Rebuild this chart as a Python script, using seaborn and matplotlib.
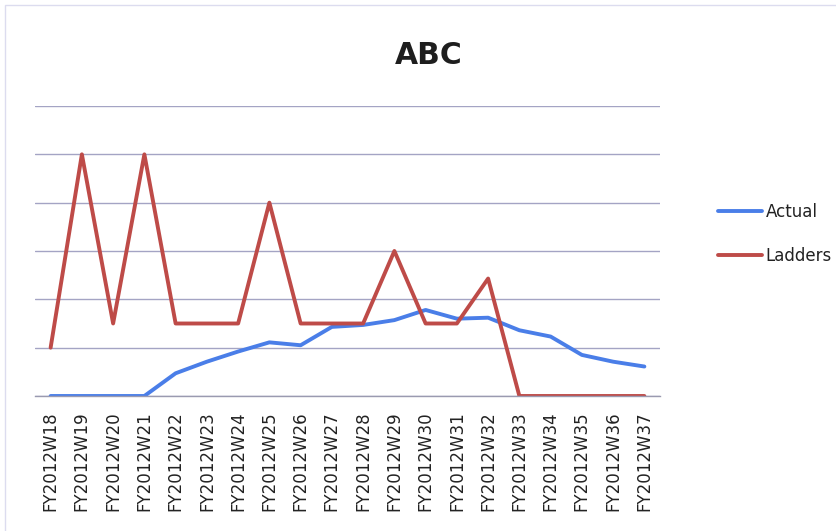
import matplotlib
matplotlib.use("Agg")
import matplotlib.pyplot as plt
from matplotlib.patches import Rectangle
from matplotlib.ticker import FixedLocator
import pandas as pd
import seaborn as sns

# Weekly values per series
weeks = [f"FY2012W{n}" for n in range(18, 38)]
actual = [0, 0, 0, 0, 0.47, 0.71, 0.92, 1.11, 1.05, 1.43,
          1.47, 1.57, 1.78, 1.60, 1.62, 1.36, 1.23, 0.85, 0.71, 0.61]
ladders = [1, 5, 1.5, 5, 1.5, 1.5, 1.5, 4, 1.5, 1.5,
           1.5, 3, 1.5, 1.5, 2.43, 0, 0, 0, 0, 0]
series_names = ["Actual", "Ladders"]
series_colors = {"Actual": "#4a7ee8", "Ladders": "#be4b48"}

df = pd.concat([
    pd.DataFrame({"week": weeks, "value": actual, "series": "Actual"}),
    pd.DataFrame({"week": weeks, "value": ladders, "series": "Ladders"}),
], ignore_index=True)

sns.set_style("white")
plt.rcParams["font.family"] = ["DejaVu Sans"]

fig = plt.figure(figsize=(8.36, 5.31), dpi=100)
ax = fig.add_axes([35 / 836, 1 - 396 / 531, 625 / 836, 290 / 531])

sns.lineplot(data=df, x="week", y="value", hue="series",
             hue_order=series_names, palette=series_colors,
             linewidth=2.8, sort=False, ax=ax, legend=False)

ax.set_xlim(-0.5, len(weeks) - 0.5)
ax.set_ylim(0, 6)
ax.set_yticks(range(0, 7))
ax.set_yticklabels([])
ax.tick_params(axis="y", length=0)
ax.grid(axis="y", color="#a4a4c4", linewidth=1.0)
ax.grid(axis="x", visible=False)
ax.set_axisbelow(True)
ax.set_xlabel("")
ax.set_ylabel("")

for side in ["top", "right", "left"]:
    ax.spines[side].set_visible(False)
ax.spines["bottom"].set_color("#9a9ab0")
ax.spines["bottom"].set_linewidth(1.0)

ax.set_xticks(range(len(weeks)))
ax.set_xticklabels(weeks, rotation=90, fontsize=12, color="#222222",
                   va="top", ha="center")
ax.tick_params(axis="x", which="major", length=0, pad=11)
ax.xaxis.set_minor_locator(FixedLocator([i - 0.5 for i in range(len(weeks) + 1)]))
ax.tick_params(axis="x", which="minor", length=4, color="#9a9ab0", width=1)

# Legend on the right side of the chart
handles = [plt.Line2D([], [], color=series_colors[s], linewidth=2.8) for s in series_names]
fig.legend(handles, series_names, loc="center left",
           bbox_to_anchor=(718 / 836, 1 - 234 / 531),
           bbox_transform=fig.transFigure, frameon=False,
           fontsize=12, handlelength=2.65, handletextpad=0.2,
           labelspacing=1.6, borderpad=0, borderaxespad=0,
           labelcolor="#222222")

fig.text(429 / 836, 1 - 56 / 531, "ABC", fontsize=21.5, fontweight="bold",
         color="#1e1e1e", ha="center", va="center")

# Chart frame
fig.patches.append(Rectangle((5 / 836, -0.5), 2, 1.5 - 5 / 531,
                             transform=fig.transFigure, fill=False,
                             edgecolor="#dcdcef", linewidth=1.0))

fig.savefig("out.png", dpi=100, facecolor="white")
